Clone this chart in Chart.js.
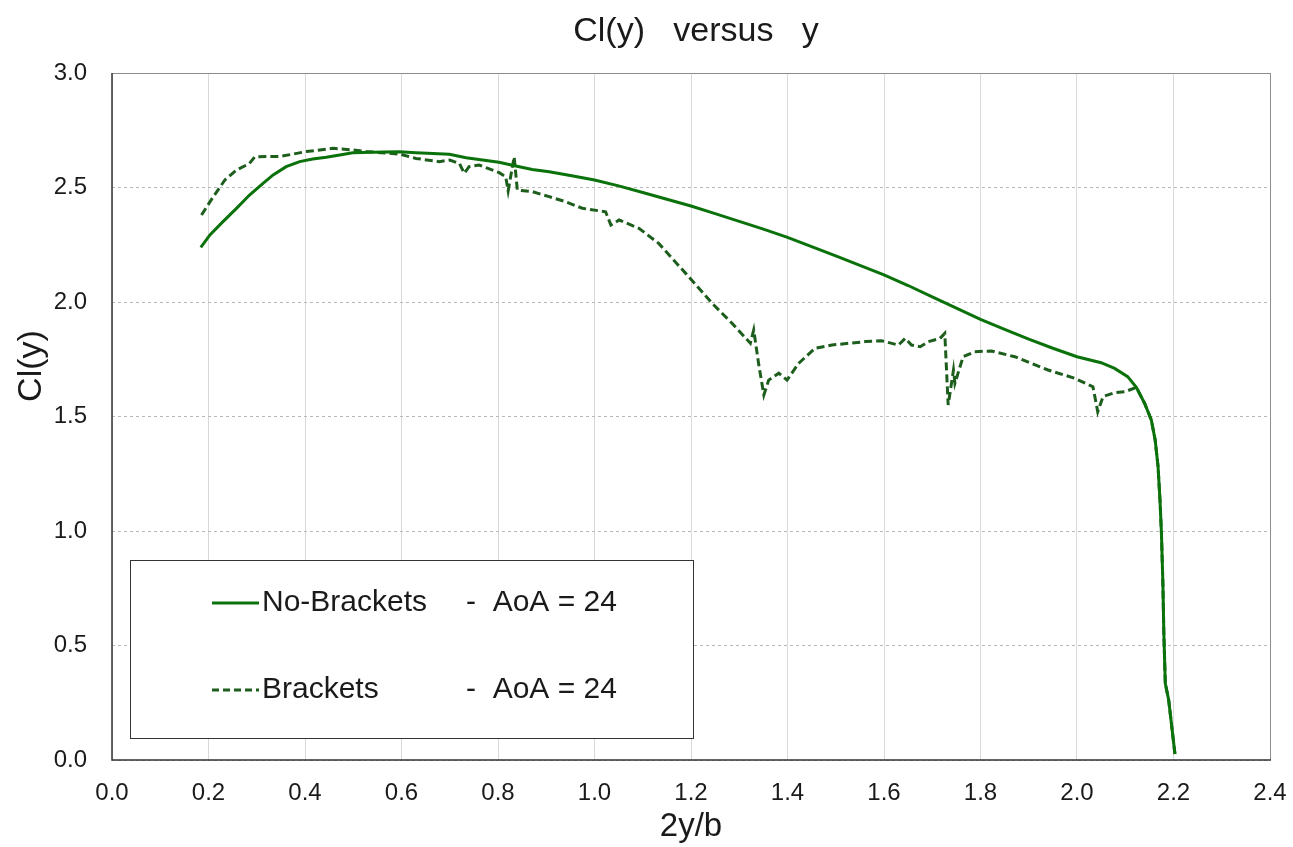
<!DOCTYPE html>
<html><head><meta charset="utf-8">
<script src="https://cdn.jsdelivr.net/npm/chart.js@4.4.1/dist/chart.umd.min.js"></script>
<style>html,body{margin:0;padding:0;background:#fff;}</style>
</head><body>
<canvas id="c" width="1293" height="847"></canvas>
<script>
const FONT = '"Liberation Sans", Arial, sans-serif';
const chartTitle = 'Cl(y)   versus   y';
const xAxisTitle = '2y/b';
const yAxisTitle = 'Cl(y)';
const seriesNames = ['No-Brackets', 'Brackets'];
const seriesSuffix = ['-  AoA = 24', '-  AoA = 24'];
const xTickLabels = ['0.0','0.2','0.4','0.6','0.8','1.0','1.2','1.4','1.6','1.8','2.0','2.2','2.4'];
const yTickLabels = ['0.0','0.5','1.0','1.5','2.0','2.5','3.0'];

const noBracketsX = [0.184,0.203,0.230,0.258,0.285,0.313,0.334,0.361,0.389,0.416,0.444,0.472,0.499,0.561,0.596,0.630,0.665,0.699,0.734,0.768,0.802,0.837,0.871,0.906,0.95,1.00,1.05,1.10,1.15,1.20,1.25,1.30,1.35,1.40,1.45,1.50,1.55,1.60,1.65,1.70,1.75,1.80,1.85,1.90,1.95,2.00,2.05,2.078,2.105,2.123,2.140,2.154,2.162,2.168,2.172,2.175,2.178,2.180,2.183,2.190,2.203];
const noBracketsY = [2.239,2.293,2.351,2.409,2.467,2.518,2.555,2.591,2.613,2.624,2.632,2.642,2.652,2.655,2.656,2.652,2.649,2.645,2.630,2.620,2.610,2.594,2.579,2.569,2.552,2.533,2.507,2.478,2.449,2.419,2.386,2.352,2.318,2.282,2.242,2.201,2.160,2.118,2.072,2.022,1.973,1.924,1.880,1.838,1.798,1.761,1.735,1.710,1.674,1.627,1.558,1.485,1.397,1.281,1.135,0.990,0.772,0.553,0.335,0.262,0.026];

const bracketsX = [0.1855,0.210,0.234,0.258,0.285,0.296,0.350,0.403,0.458,0.499,0.527,0.596,0.630,0.678,0.700,0.720,0.730,0.740,0.761,0.8025,0.816,0.821,0.8335,0.840,0.871,0.906,0.940,0.975,1.023,1.034,1.051,1.092,1.133,1.189,1.244,1.285,1.323,1.330,1.340,1.351,1.361,1.382,1.399,1.423,1.457,1.492,1.561,1.595,1.630,1.644,1.657,1.675,1.692,1.716,1.726,1.733,1.744,1.747,1.764,1.788,1.823,1.871,1.940,1.995,2.033,2.043,2.054,2.078,2.099,2.123,2.140,2.154,2.162,2.168,2.172,2.175,2.178,2.180,2.183,2.190,2.203];
const bracketsY = [2.380,2.460,2.533,2.576,2.605,2.634,2.636,2.657,2.671,2.664,2.657,2.646,2.627,2.613,2.620,2.605,2.562,2.591,2.598,2.565,2.547,2.485,2.634,2.489,2.482,2.460,2.438,2.409,2.394,2.336,2.358,2.322,2.256,2.125,1.994,1.907,1.820,1.878,1.732,1.594,1.659,1.689,1.659,1.732,1.798,1.812,1.827,1.831,1.812,1.841,1.812,1.805,1.827,1.841,1.863,1.550,1.703,1.645,1.761,1.783,1.786,1.761,1.703,1.667,1.630,1.521,1.587,1.604,1.608,1.627,1.558,1.485,1.397,1.281,1.135,0.990,0.772,0.553,0.335,0.262,0.026];

function pts(xs, ys) { return xs.map((x, i) => ({x: x, y: ys[i]})); }

const framePlugin = {
  id: 'frame',
  afterDatasetsDraw(chart) {
    const {ctx, chartArea: a} = chart;
    ctx.save();
    ctx.lineWidth = 1;
    ctx.strokeStyle = '#8c8c8c';
    ctx.beginPath();
    ctx.moveTo(a.left, a.top + 0.5); ctx.lineTo(a.right + 0.5, a.top + 0.5); ctx.lineTo(a.right + 0.5, a.bottom);
    ctx.stroke();
    ctx.lineWidth = 1.5;
    ctx.strokeStyle = '#333333';
    ctx.beginPath();
    ctx.moveTo(a.left, a.top); ctx.lineTo(a.left, a.bottom); ctx.lineTo(a.right + 1, a.bottom);
    ctx.stroke();
    // chart title, centred over the plot area
    ctx.fillStyle = '#1a1a1a';
    ctx.font = '34px ' + FONT;
    ctx.textAlign = 'center';
    ctx.textBaseline = 'alphabetic';
    ctx.fillText(chartTitle, (a.left + a.right) / 2 + 5, 41);
    // y axis title
    ctx.textBaseline = 'middle';
    ctx.translate(32, 366);
    ctx.rotate(-Math.PI / 2);
    ctx.fillText(yAxisTitle, 0, 0);
    ctx.restore();
  }
};

const legendPlugin = {
  id: 'boxLegend',
  afterDraw(chart) {
    const {ctx} = chart;
    const box = {l: 130, t: 560, r: 693, b: 738};
    ctx.save();
    ctx.fillStyle = '#ffffff';
    ctx.fillRect(box.l, box.t, box.r - box.l, box.b - box.t);
    ctx.strokeStyle = '#333333';
    ctx.lineWidth = 1;
    ctx.strokeRect(box.l + 0.5, box.t + 0.5, box.r - box.l, box.b - box.t);
    const rows = [603, 690];
    chart.data.datasets.forEach((ds, i) => {
      const y = rows[i];
      ctx.strokeStyle = ds.borderColor;
      ctx.lineWidth = 3;
      ctx.setLineDash(i === 1 ? [7, 4] : []);
      ctx.beginPath();
      ctx.moveTo(212, y); ctx.lineTo(259, y);
      ctx.stroke();
      ctx.setLineDash([]);
      ctx.fillStyle = '#1a1a1a';
      ctx.font = '30px ' + FONT;
      ctx.textAlign = 'left';
      ctx.textBaseline = 'middle';
      ctx.fillText(seriesNames[i], 262, y);
      ctx.fillText(seriesSuffix[i], 466, y);
    });
    ctx.restore();
  }
};

new Chart(document.getElementById('c'), {
  type: 'line',
  data: {
    datasets: [
      {label: seriesNames[0] + ' ' + seriesSuffix[0], data: pts(noBracketsX, noBracketsY),
       borderColor: '#0b720b', borderWidth: 3, pointRadius: 0, tension: 0, fill: false, order: 1},
      {label: seriesNames[1] + ' ' + seriesSuffix[1], data: pts(bracketsX, bracketsY),
       borderColor: '#1d5e1d', borderWidth: 3, borderDash: [8, 4], pointRadius: 0, tension: 0, fill: false, order: 2}
    ]
  },
  options: {
    responsive: false,
    animation: false,
    devicePixelRatio: 1,
    layout: {padding: {left: 0, right: 23, top: 73, bottom: 0}},
    plugins: {
      legend: {display: false},
      tooltip: {enabled: false},
      title: {display: false}
    },
    scales: {
      x: {
        type: 'linear', min: 0, max: 2.4,
        afterFit(s) { s.height = 87; s.paddingLeft = 0; s.paddingRight = 0; },
        ticks: {stepSize: 0.2, padding: 19, color: '#1a1a1a', font: {family: FONT, size: 24},
                callback: (v, i) => xTickLabels[i]},
        grid: {color: '#d9d9d9', lineWidth: 1, drawTicks: false},
        border: {display: false},
        title: {display: true, text: xAxisTitle, color: '#1a1a1a', font: {family: FONT, size: 33},
                padding: {top: 0, bottom: 0}}
      },
      y: {
        type: 'linear', min: 0, max: 3,
        afterFit(s) { s.width = 112; s.paddingTop = 0; s.paddingBottom = 0; },
        ticks: {stepSize: 0.5, padding: 25, color: '#1a1a1a', font: {family: FONT, size: 24},
                callback: (v, i) => yTickLabels[i]},
        grid: {color: '#b8b8b8', lineWidth: 1, drawTicks: false},
        border: {display: false, dash: [3, 3]}
      }
    }
  },
  plugins: [framePlugin, legendPlugin]
});
</script>
</body></html>
